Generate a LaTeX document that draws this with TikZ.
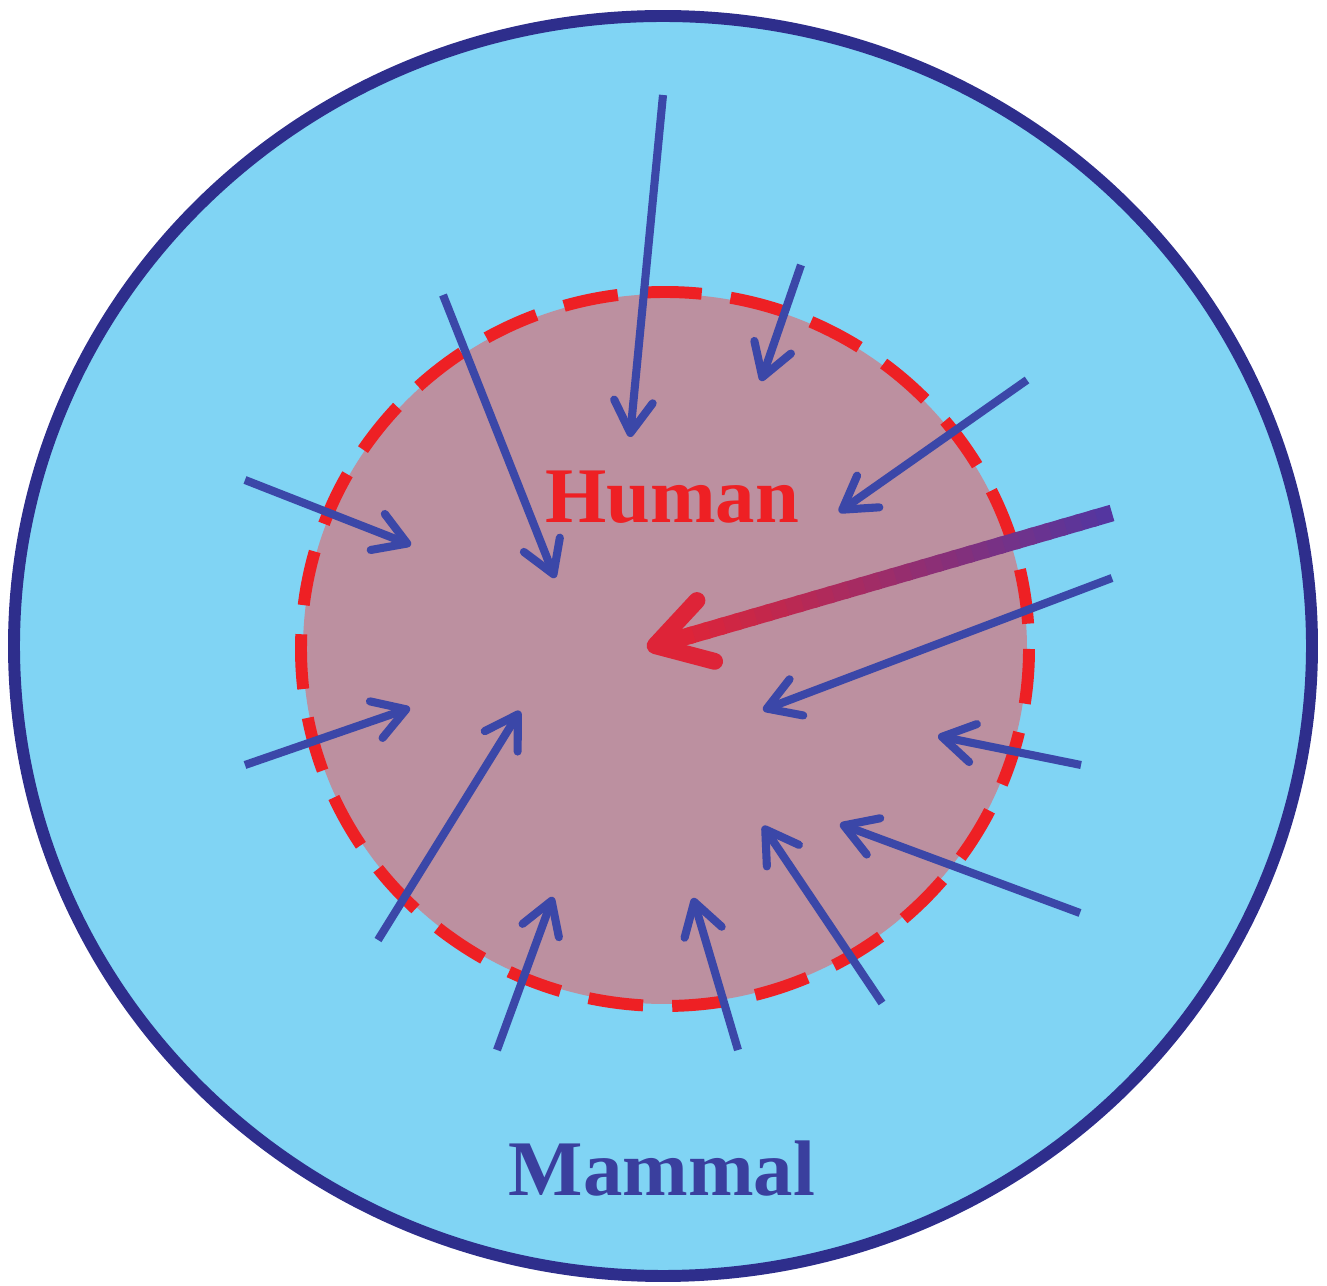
\documentclass[tikz,border=0pt]{standalone}
\usepackage{fontspec}
\setmainfont{Liberation Serif}
\usetikzlibrary{arrows.meta,calc}
\definecolor{sky}{HTML}{80D4F4}
\definecolor{rim}{HTML}{2E2E8C}
\definecolor{core}{HTML}{BC90A0}
\definecolor{hred}{HTML}{EE2024}
\definecolor{spoke}{HTML}{3B47A8}
\definecolor{hpurp}{HTML}{5436A0}
\definecolor{hcrim}{HTML}{DE2438}
\definecolor{mtext}{HTML}{3A3F9E}

\begin{document}
\begin{tikzpicture}[x=0.01cm, y=-0.01cm, >=latex]
  \useasboundingbox (0,0) rectangle (1327,1286);

  % Cercul mare -- mamifere
  \draw[rim, fill=sky, line width=3.4pt]
    (663,646) ellipse [x radius=649, y radius=630];

  % Cercul interior -- om, margine intrerupta
  \fill[core] (665,649) ellipse [x radius=362, y radius=355];
  \draw[hred, line width=3.4pt, dash pattern=on 15.6pt off 8.3pt]
    (665,649) ellipse [x radius=364, y radius=357];

  % Sagetile albastre spre interior
  \foreach \n/\tx/\ty/\hx/\hy in {1/663/95/630/437, 2/801/265/761/381,
      3/1027/380/839/512, 4/443/295/555/578, 5/245/480/411/545,
      6/245/765/410/708, 7/378/940/520/711, 8/497/1050/553/897,
      9/738/1050/693/898, 10/882/1003/763/826, 11/1080/913/840/824,
      12/1081/765/938/736, 13/1112/578/763/710} {
    \coordinate (t\n) at (\tx,\ty);
    \coordinate (h\n) at (\hx,\hy);
    \draw[spoke, line width=2.3pt, -{Straight Barb[length=9pt,width=11pt,round]}]
      (t\n) -- (h\n);
  }

  % Sageata groasa -- din violet in rosu
  \coordinate (mt) at (1112,513);
  \coordinate (mh) at (647,648);
  \foreach \i in {0,...,27} {
    \pgfmathsetmacro\p{100*\i/27}
    \draw[hcrim!\p!hpurp, line width=4.8pt]
      ($(mt)!{\i/30}!(mh)$) -- ($(mt)!{(\i+1.3)/30}!(mh)$);
  }
  \draw[hcrim, line width=4.8pt, -{Straight Barb[length=15pt,width=18pt,round]}]
    ($(mt)!0.92!(mh)$) -- (mh);

  % Etichete
  \node[hred, font=\fontsize{22.4}{25}\selectfont\bfseries] (human) at (672,497) {Human};
  \node[mtext, font=\fontsize{22.4}{25}\selectfont\bfseries] (mammal) at (662,1169) {Mammal};
\end{tikzpicture}
\end{document}
